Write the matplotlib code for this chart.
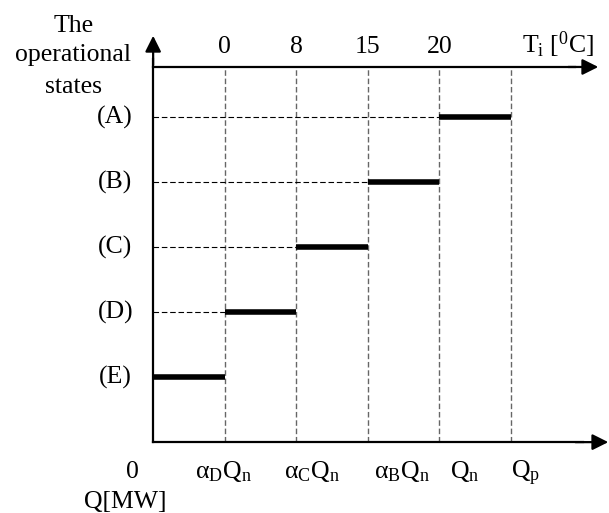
import matplotlib
matplotlib.use("Agg")
import matplotlib.pyplot as plt

# ---- data ----
states = ['(A)', '(B)', '(C)', '(D)', '(E)']          # top to bottom
state_levels = [5, 4, 3, 2, 1]                          # vertical position of each state
bar_start = [4, 3, 2, 1, 0]                             # heat-load level index where state starts
bar_end = [5, 4, 3, 2, 1]                               # heat-load level index where state ends
q_levels = [1, 2, 3, 4, 5]                              # dashed vertical guide lines
temp_ticks = [1, 2, 3, 4]
temp_labels = ['0', '8', '15', '20']
q_labels = ['0', r'α$_{\mathrm{D}}$Q$_{\mathrm{n}}$', r'α$_{\mathrm{C}}$Q$_{\mathrm{n}}$',
            r'α$_{\mathrm{B}}$Q$_{\mathrm{n}}$', r'Q$_{\mathrm{n}}$', r'Q$_{\mathrm{p}}$']
q_label_x = [-0.29, 0.98, 2.22, 3.48, 4.36, 5.21]
title_lines = ['The', 'operational', 'states']
title_line_y = [6.31, 5.86, 5.37]

plt.rcParams['font.family'] = ['Liberation Serif', 'DejaVu Serif']
plt.rcParams['mathtext.fontset'] = 'custom'
plt.rcParams['mathtext.rm'] = 'Liberation Serif'
plt.rcParams['mathtext.it'] = 'Liberation Serif:italic'
plt.rcParams['mathtext.bf'] = 'Liberation Serif:bold'

fig = plt.figure(figsize=(6.09, 5.13), dpi=100)
ax = fig.add_axes([0, 0, 1, 1])
ax.set_xlim(-2.14, 6.37)
ax.set_ylim(-1.09, 6.80)
ax.axis('off')

top_y = 5.77
fs = 18.5

# vertical dashed guides
for q in q_levels:
    ax.plot([q, q], [0, top_y], color='#666666', lw=1.0, ls=(0, (4, 2)), zorder=1)

# horizontal dashed guides and bars
for lvl, s, e in zip(state_levels, bar_start, bar_end):
    if s > 0:
        ax.plot([0, s], [lvl, lvl], color='black', lw=0.8, ls=(0, (5, 2.5)), zorder=1)
    ax.plot([s, e], [lvl, lvl], color='black', lw=4.0, solid_capstyle='butt', zorder=3)

# axes
arrow = dict(arrowstyle='-|>', color='black', lw=1.6, mutation_scale=24, shrinkA=0, shrinkB=0)
ax.plot([0, 0], [0, 5.9], color='black', lw=1.6, zorder=2)
ax.annotate('', xy=(0, 6.25), xytext=(0, 5.8), arrowprops=arrow)
ax.plot([0, 5.9], [top_y, top_y], color='black', lw=1.6, zorder=2)
ax.annotate('', xy=(6.22, top_y), xytext=(5.8, top_y), arrowprops=arrow)
ax.plot([0, 6.0], [0, 0], color='black', lw=1.6, zorder=2)
ax.annotate('', xy=(6.36, 0), xytext=(5.9, 0), arrowprops=arrow)

# state labels
for name, lvl in zip(states, state_levels):
    ax.text(-0.53, lvl, name, ha='center', va='center', fontsize=fs)
for line, y in zip(title_lines, title_line_y):
    ax.text(-1.117, y, line, ha='center', va='baseline', fontsize=fs)

# temperature labels
for t, lab in zip(temp_ticks, temp_labels):
    ax.text(t, 5.985, lab, ha='center', va='baseline', fontsize=fs)
ax.text(5.66, 5.985, r'T$_{\mathrm{i}}$ [$^{0}$C]', ha='center', va='baseline', fontsize=fs)

# heat load labels
for x, lab in zip(q_label_x, q_labels):
    ax.text(x, -0.554, lab, ha='center', va='baseline', fontsize=fs)
ax.text(-0.39, -1.015, 'Q[MW]', ha='center', va='baseline', fontsize=fs)

fig.savefig('out.png', dpi=100)
